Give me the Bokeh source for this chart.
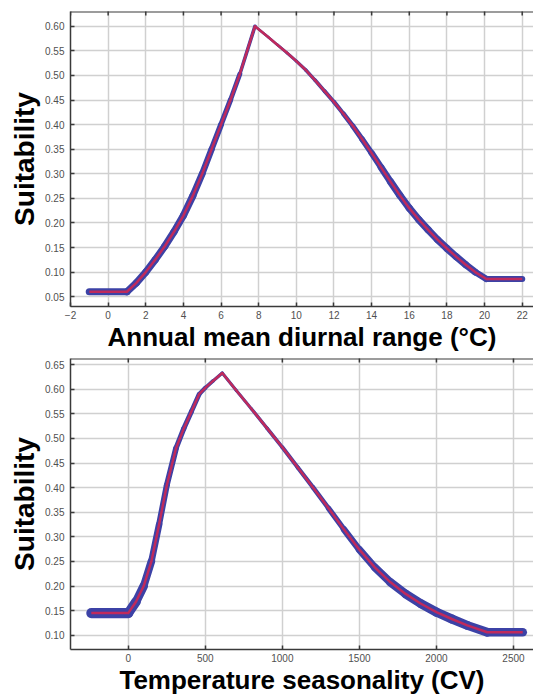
import math
from bokeh.plotting import figure
from bokeh.layouts import column
from bokeh.models import Range1d, FixedTicker, PrintfTickFormatter, ColumnDataSource, Span
from bokeh.embed import file_html
from bokeh.resources import INLINE

# ---- Top panel: Annual mean diurnal range ----
top_x = [-1, 1, 1.5, 2, 2.5, 3, 3.5, 4, 4.5, 5, 5.5, 6, 6.5, 7, 7.8, 8.5, 9, 9.5, 10, 10.5,
         11, 11.5, 12, 12.5, 13, 13.5, 14, 14.5, 15, 15.5, 16, 16.5, 17, 17.5, 18, 18.5,
         19, 19.5, 20.1, 22]
top_y = [0.06, 0.06, 0.078, 0.10, 0.125, 0.152, 0.182, 0.215, 0.255, 0.30, 0.35, 0.40,
         0.45, 0.503, 0.60, 0.578, 0.562, 0.546, 0.529, 0.511, 0.49, 0.468, 0.446, 0.422,
         0.397, 0.37, 0.342, 0.313, 0.284, 0.256, 0.23, 0.207, 0.186, 0.166, 0.148, 0.131,
         0.115, 0.10, 0.086, 0.086]
top_sd = [0.0073, 0.0073, 0.0073, 0.0073, 0.0073, 0.0073, 0.0073, 0.0073, 0.0073, 0.0067,
          0.0062, 0.0057, 0.0052, 0.0047, 0.0026, 0.0026, 0.0026, 0.0031, 0.0031, 0.0036,
          0.0036, 0.0041, 0.0041, 0.0047, 0.0052, 0.0057, 0.0062, 0.0067, 0.0073, 0.0073,
          0.0073, 0.0073, 0.0073, 0.0073, 0.0073, 0.0073, 0.0073, 0.0067, 0.0062, 0.0062]
top_xticks = [-2, 0, 2, 4, 6, 8, 10, 12, 14, 16, 18, 20, 22]
top_yticks = [0.05, 0.10, 0.15, 0.20, 0.25, 0.30, 0.35, 0.40, 0.45, 0.50, 0.55, 0.60]
top_xlabel = "Annual mean diurnal range (°C)"

# ---- Bottom panel: Temperature seasonality ----
bot_x = [-240, 0, 50, 100, 150, 200, 250, 310, 360, 410, 460, 500, 550, 610, 700, 800, 900,
         1000, 1100, 1200, 1300, 1400, 1500, 1600, 1700, 1800, 1900, 2000, 2100, 2200, 2330,
         2560]
bot_y = [0.145, 0.145, 0.168, 0.20, 0.25, 0.325, 0.405, 0.48, 0.52, 0.555, 0.59, 0.603,
         0.617, 0.633, 0.598, 0.56, 0.521, 0.482, 0.441, 0.40, 0.358, 0.315, 0.274, 0.238,
         0.208, 0.184, 0.164, 0.147, 0.133, 0.12, 0.106, 0.106]
bot_sd = [0.0102, 0.0102, 0.0092, 0.0082, 0.0072, 0.0061, 0.0061, 0.0056, 0.0051, 0.0051,
          0.0046, 0.0041, 0.0036, 0.0031, 0.0031, 0.0031, 0.0036, 0.0041, 0.0041, 0.0046,
          0.0051, 0.0061, 0.0072, 0.0077, 0.0082, 0.0087, 0.0092, 0.0092, 0.0092, 0.0092,
          0.0087, 0.0087]
bot_xticks = [0, 500, 1000, 1500, 2000, 2500]
bot_yticks = [0.10, 0.15, 0.20, 0.25, 0.30, 0.35, 0.40, 0.45, 0.50, 0.55, 0.60, 0.65]
bot_xlabel = "Temperature seasonality (CV)"

BLUE = "#3c42a6"
RED = "#bf2a5c"
AXIS = "#3a3a3a"
GRID = "#d0d0d0"
TICKLBL = "#505050"
FONT = "Liberation Sans"
RED_W = 2.5


def build(x, y, sd, xticks, yticks, xr, yr, xlabel, height, top_b, bot_b):
    p = figure(width=533, height=height, x_range=Range1d(*xr), y_range=Range1d(*yr),
               output_backend="svg", toolbar_location=None,
               min_border_left=70, min_border_right=0, min_border_top=top_b,
               min_border_bottom=bot_b, x_axis_label=xlabel, y_axis_label="Suitability")
    p.outline_line_color = None
    p.background_fill_color = "white"
    p.border_fill_color = "white"

    # blue spread band: thickness follows the spread values
    ppu = (height - top_b - bot_b) / (yr[1] - yr[0])
    w = [max(2 * s * ppu, RED_W) for s in sd]
    seg = ColumnDataSource(dict(x0=x[:-1], y0=y[:-1], x1=x[1:], y1=y[1:],
                                w=[(a + b) / 2 for a, b in zip(w[:-1], w[1:])]))
    p.segment(x0="x0", y0="y0", x1="x1", y1="y1", source=seg, line_color=BLUE,
              line_width="w", line_cap="round")
    p.line(x=x, y=y, line_color=RED, line_width=RED_W, line_join="round")

    p.xaxis.ticker = FixedTicker(ticks=xticks)
    p.yaxis.ticker = FixedTicker(ticks=yticks)
    p.yaxis.formatter = PrintfTickFormatter(format="%.2f")
    p.xgrid.ticker = FixedTicker(ticks=xticks)
    p.ygrid.ticker = FixedTicker(ticks=yticks)
    p.grid.grid_line_color = GRID
    p.grid.grid_line_width = 1.5
    p.grid.level = "underlay"

    for ax in (p.xaxis[0], p.yaxis[0]):
        ax.axis_line_color = AXIS
        ax.axis_line_width = 1.5
        ax.major_tick_line_color = AXIS
        ax.major_tick_line_width = 1.5
        ax.major_tick_in = 4
        ax.major_tick_out = 0
        ax.minor_tick_line_color = None
        ax.major_label_text_font = FONT
        ax.major_label_text_font_size = "10px"
        ax.major_label_text_color = TICKLBL
        ax.axis_label_text_font = FONT
        ax.axis_label_text_font_style = "bold"
        ax.axis_label_text_color = "black"
    p.xaxis.axis_label_text_font_size = "26px"
    p.yaxis.axis_label_text_font_size = "28px"
    p.xaxis.major_label_standoff = 4
    p.xaxis.axis_label_standoff = 0
    p.yaxis.major_label_standoff = 6
    p.yaxis.axis_label_standoff = 2

    # top frame line with inward tick marks at the x ticks
    p.add_layout(Span(location=yr[1], dimension="width", line_color=AXIS, line_width=2))
    p.scatter(x=xticks, y=[yr[1]] * len(xticks), marker="dash", angle=math.pi / 2, size=8,
              line_color=AXIS, line_width=1.5)
    return p


p1 = build(top_x, top_y, top_sd, top_xticks, top_yticks, (-2, 22.6), (0.03, 0.63),
           top_xlabel, 354, 11, 47)
p2 = build(bot_x, bot_y, bot_sd, bot_xticks, bot_yticks, (-375, 2630), (0.071, 0.6626),
           bot_xlabel, 343, 4, 45)

layout = column(p1, p2, spacing=0)
open("out.html", "w").write(file_html(layout, INLINE))
